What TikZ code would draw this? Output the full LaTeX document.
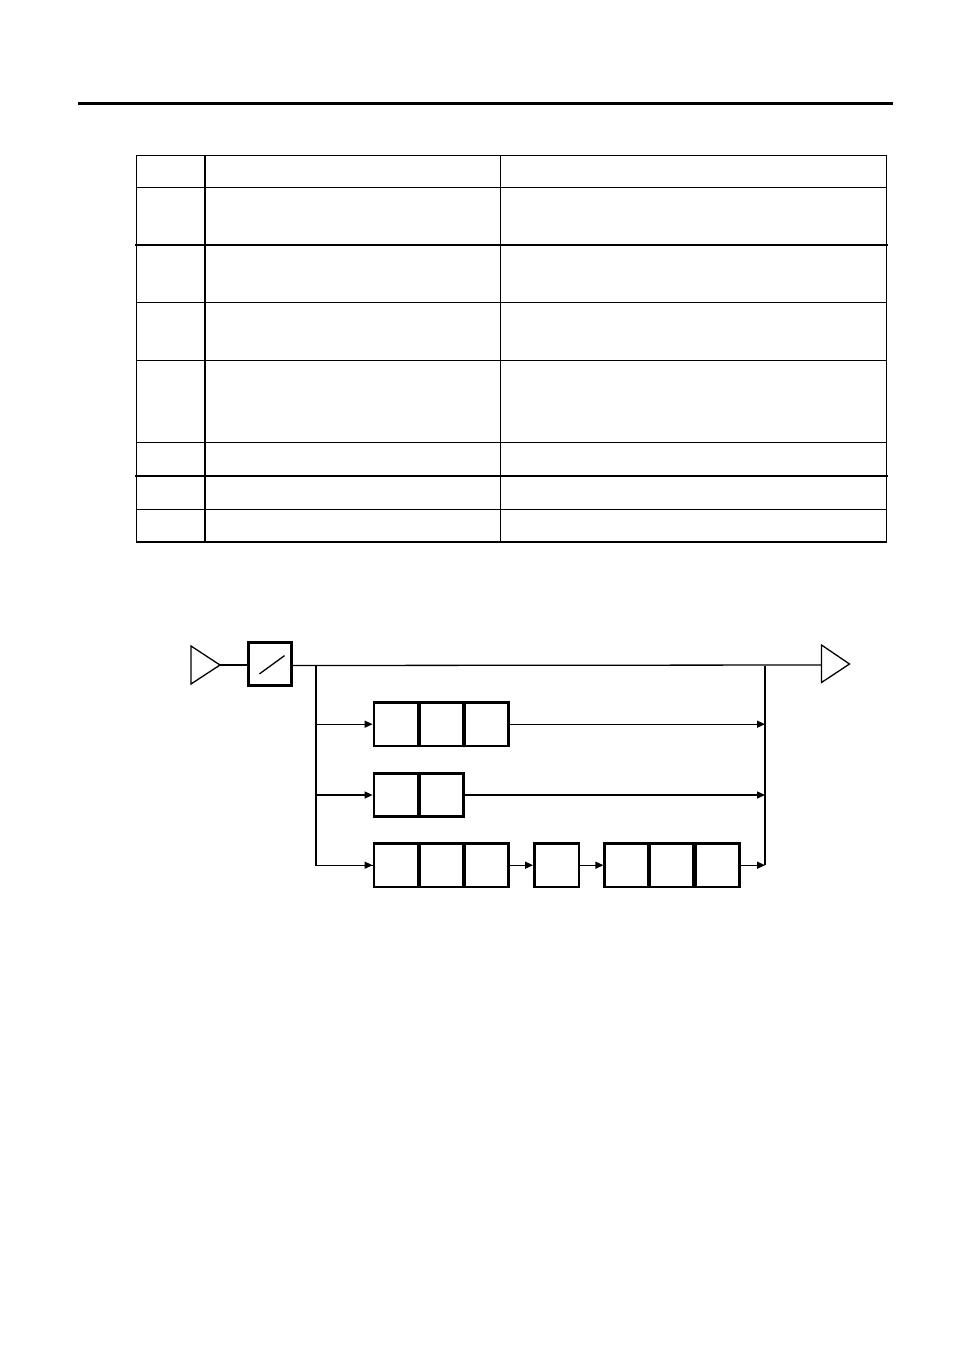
\documentclass[tikz,border=0pt]{standalone}
\usetikzlibrary{arrows.meta}
\begin{document}
\begin{tikzpicture}[x=1pt,y=-1pt,
  cell/.style={draw,line width=2.8pt,inner sep=0pt,minimum width=44pt,minimum height=43.5pt},
  thin/.style={line width=1.3pt},
  arr/.style={line width=1.3pt,-{Triangle[length=8pt,width=7pt]}},
  tab/.style={line width=1.2pt},
  tabthick/.style={line width=2.2pt},
  line cap=rect]
\useasboundingbox (0,0) rectangle (954,1351);
% header rule
\draw[line width=3pt,line cap=butt] (78,103.5) -- (893,103.5);
% table
\draw[tab] (136.5,155.5) rectangle (886.5,542);
\draw[tab] (205,155.5) -- (205,542);
\draw[tab] (500.5,155.5) -- (500.5,542);
\foreach \y in {187.3,302.3,360.3,442.3,509.3}
  \draw[tab] (136.5,\y) -- (886.5,\y);
\foreach \y in {245,475.7}
  \draw[tabthick] (136.5,\y) -- (886.5,\y);
% input / output triangles
\draw[thin,line join=miter] (191,646) -- (220,665) -- (191,684) -- cycle;
\coordinate (intip) at (220,665);
\draw[thin,line join=miter] (821.5,645) -- (849.5,664) -- (821.5,682.5) -- cycle;
\coordinate (outin) at (821.5,665);
% slash box
\node[draw,line width=2.8pt,inner sep=0pt,minimum width=43pt,minimum height=42.7pt] (sw) at (269.7,664) {};
\draw[thin] (260,673.5) -- (284,656);
% cells
\node[cell] (a1) at (396,724.2) {};
\node[cell] (a2) at (441.3,724.2) {};
\node[cell] (a3) at (486.5,724.2) {};
\node[cell] (b1) at (396,795) {};
\node[cell] (b2) at (441.7,795) {};
\node[cell] (c1) at (396,865.2) {};
\node[cell] (c2) at (441.3,865.2) {};
\node[cell] (c3) at (486.5,865.2) {};
\node[cell,minimum width=44.5pt] (d1) at (556.7,865.2) {};
\node[cell] (e1) at (626.8,865.2) {};
\node[cell] (e2) at (671.8,865.2) {};
\node[cell] (e3) at (717.2,865.2) {};
% bus coordinates
\coordinate (lbtop) at (316,665.5);
\coordinate (rbtop) at (765,665.5);
\coordinate (ra) at (765,724.2);
\coordinate (rb) at (765,795);
\coordinate (rc) at (765,865.2);
% connectors
\draw[thin,line cap=butt] (intip) -- (sw.west |- intip);
\draw[thin,line cap=butt] (sw.east |- lbtop) -- (outin);
\draw[thin,line cap=butt] (lbtop) -- (316,865.2) -- (c1.west);
\draw[arr,line cap=butt] (316,724.2) -- (a1.west);
\draw[arr,line cap=butt] (316,795) -- (b1.west);
\draw[arr,line cap=butt] (316,865.2) -- (c1.west);
\draw[line width=2pt,line cap=butt] (rbtop) -- (rc);
\draw[arr,line cap=butt] (a3.east) -- (ra);
\draw[arr,line cap=butt] (b2.east) -- (rb);
\draw[arr,line cap=butt] (c3.east) -- (d1.west);
\draw[arr,line cap=butt] (d1.east) -- (e1.west);
\draw[arr,line cap=butt] (e3.east) -- (rc);
\end{tikzpicture}
\end{document}
